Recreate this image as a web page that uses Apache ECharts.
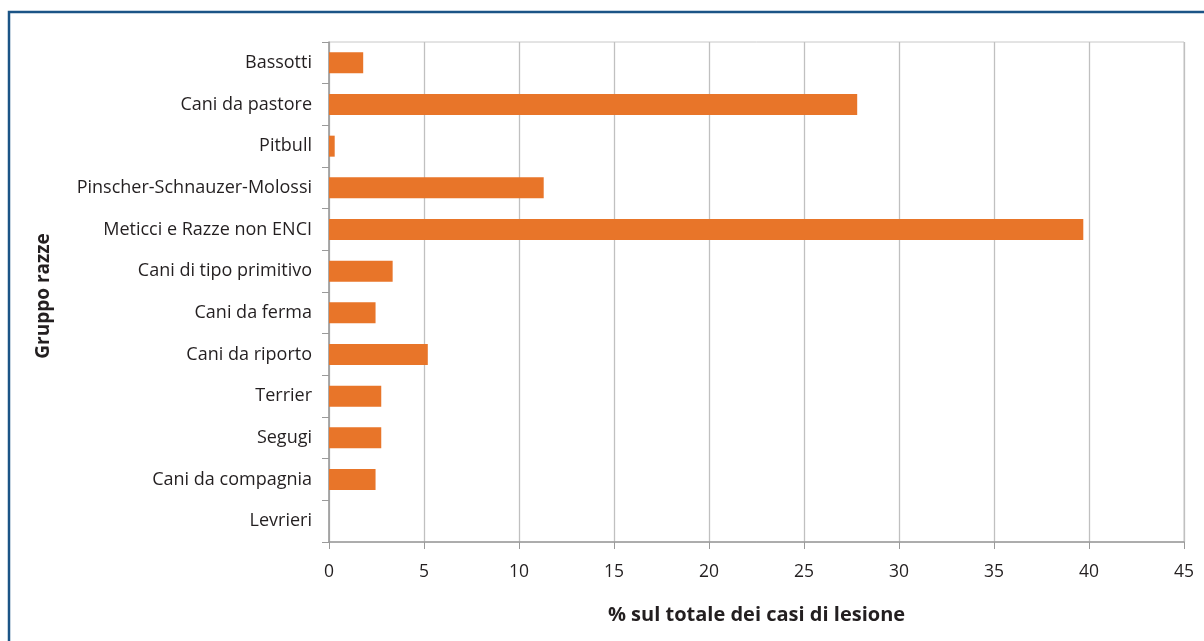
<!DOCTYPE html>
<html>
<head>
<meta charset="utf-8">
<script src="https://cdn.jsdelivr.net/npm/echarts@6/dist/echarts.min.js"></script>
<style>
  html, body { margin: 0; padding: 0; background: #ffffff; }
  #chart { width: 1204px; height: 641px; }
</style>
</head>
<body>
<div id="chart"></div>
<script>
// Breed groups, top to bottom
const categories = [
  'Bassotti',
  'Cani da pastore',
  'Pitbull',
  'Pinscher-Schnauzer-Molossi',
  'Meticci e Razze non ENCI',
  'Cani di tipo primitivo',
  'Cani da ferma',
  'Cani da riporto',
  'Terrier',
  'Segugi',
  'Cani da compagnia',
  'Levrieri'
];

// Share of all injury cases (%)
const percentages = [1.8, 27.8, 0.3, 11.3, 39.7, 3.35, 2.45, 5.2, 2.75, 2.75, 2.45, 0];

const xTicks = { min: 0, max: 45, step: 5 };

const xTitle = '% sul totale dei casi di lesione';
const yTitle = 'Gruppo razze';

const FONT = '"Open Sans", "DejaVu Sans", sans-serif';
const TEXT = '#231f20';

const chart = echarts.init(document.getElementById('chart'), null, { renderer: 'canvas' });

chart.setOption({
  backgroundColor: '#ffffff',
  animation: false,
  graphic: [{
    type: 'rect',
    shape: { x: 9, y: 12, width: 1400, height: 900 },
    style: { fill: 'none', stroke: '#1b5486', lineWidth: 2.5 },
    silent: true
  }, {
    type: 'text',
    x: 44,
    y: 296,
    rotation: Math.PI / 2,
    style: {
      text: yTitle,
      font: 'bold 19px ' + FONT,
      fill: TEXT,
      align: 'center',
      verticalAlign: 'middle'
    }
  }],
  grid: {
    left: 329, right: 20, top: 42, bottom: 99,
    show: true,
    borderColor: '#c8c8c8',
    borderWidth: 1
  },
  xAxis: {
    type: 'value',
    min: xTicks.min,
    max: xTicks.max,
    interval: xTicks.step,
    name: xTitle,
    nameLocation: 'middle',
    nameGap: 63,
    nameTextStyle: { fontFamily: FONT, fontSize: 20, fontWeight: 'bold', color: TEXT },
    axisLine: { show: true, lineStyle: { color: '#9a9a9a', width: 1.5 } },
    axisTick: { show: true, length: 7, lineStyle: { color: '#9a9a9a' } },
    axisLabel: { fontFamily: FONT, fontSize: 17.5, color: TEXT, margin: 21 },
    splitLine: { show: true, lineStyle: { color: '#c0c0c0', width: 1.3 } }
  },
  yAxis: {
    type: 'category',
    data: categories,
    inverse: true,
    axisLine: { show: true, lineStyle: { color: '#9a9a9a', width: 1.5 } },
    axisTick: { show: true, length: 7, lineStyle: { color: '#9a9a9a' } },
    axisLabel: { fontFamily: FONT, fontSize: 18, color: TEXT, margin: 17 },
    splitLine: { show: false }
  },
  series: [{
    type: 'bar',
    data: percentages,
    barWidth: 21,
    itemStyle: { color: '#e87529' }
  }]
});
</script>
</body>
</html>
